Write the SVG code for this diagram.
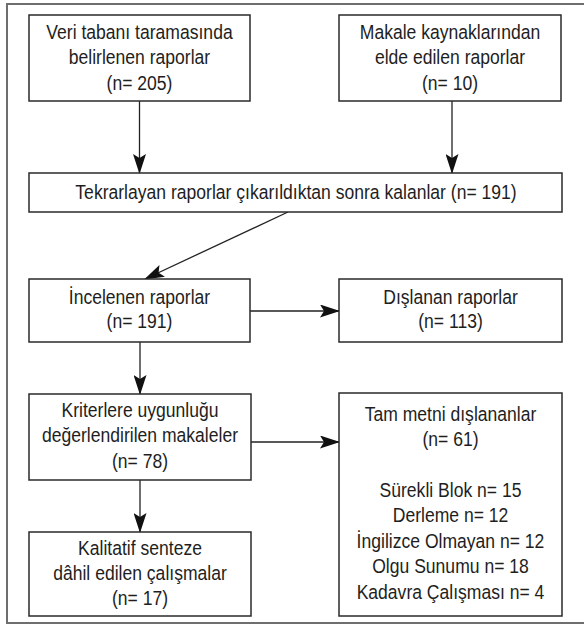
<svg xmlns="http://www.w3.org/2000/svg" width="584" height="624" viewBox="0 0 584 624">
  <defs>
    <style>
      .box { fill: #ffffff; stroke: #2a2a2a; stroke-width: 1.5; }
      .frame { fill: none; stroke: #6e6e6e; stroke-width: 2; }
      .lbl { font-family: "Liberation Sans", Arial, Helvetica, sans-serif; font-size: 19.5px; fill: #1e1e1e; text-anchor: middle; }
      .conn { stroke: #222222; stroke-width: 1.3; fill: none; marker-end: url(#arrow); }
    </style>
    <marker id="arrow" markerUnits="userSpaceOnUse" markerWidth="20" markerHeight="13" refX="19" refY="6.5" orient="auto">
      <path d="M0,0 L20,6.5 L0,13 L4,6.5 Z" fill="#111111"/>
    </marker>
  </defs>
  <rect width="584" height="624" fill="#ffffff"/>
  <path class="frame" d="M584,4 H7 V623 H584"/>

  <g id="connectors">
    <line class="conn" x1="139.5" y1="101" x2="139.5" y2="173"/>
    <line class="conn" x1="452" y1="101" x2="452" y2="173"/>
    <line class="conn" x1="288" y1="212" x2="145" y2="279"/>
    <line class="conn" x1="250" y1="311" x2="339" y2="311"/>
    <line class="conn" x1="140" y1="342" x2="140" y2="394"/>
    <line class="conn" x1="251" y1="442" x2="339" y2="442"/>
    <line class="conn" x1="140" y1="480" x2="140" y2="532"/>
  </g>

  <g id="n1">
    <rect class="box" x="29" y="15" width="221" height="86"/>
    <g transform="translate(139.5,0) scale(0.9,1)">
      <text class="lbl" x="0" y="39">Veri tabanı taramasında</text>
      <text class="lbl" x="0" y="64.5">belirlenen raporlar</text>
      <text class="lbl" x="0" y="90">(n= 205)</text>
    </g>
  </g>

  <g id="n2">
    <rect class="box" x="339" y="15" width="222" height="86"/>
    <g transform="translate(450,0) scale(0.9,1)">
      <text class="lbl" x="0" y="39">Makale kaynaklarından</text>
      <text class="lbl" x="0" y="64.5">elde edilen raporlar</text>
      <text class="lbl" x="0" y="90">(n= 10)</text>
    </g>
  </g>

  <g id="n3">
    <rect class="box" x="29" y="173" width="533" height="39"/>
    <g transform="translate(296,0) scale(0.9,1)">
      <text class="lbl" x="0" y="199">Tekrarlayan raporlar çıkarıldıktan sonra kalanlar (n= 191)</text>
    </g>
  </g>

  <g id="n4">
    <rect class="box" x="29" y="279" width="221" height="63"/>
    <g transform="translate(139.5,0) scale(0.9,1)">
      <text class="lbl" x="0" y="304">İncelenen raporlar</text>
      <text class="lbl" x="0" y="328.5">(n= 191)</text>
    </g>
  </g>

  <g id="n5">
    <rect class="box" x="339" y="279" width="223" height="63"/>
    <g transform="translate(450.5,0) scale(0.9,1)">
      <text class="lbl" x="0" y="304">Dışlanan raporlar</text>
      <text class="lbl" x="0" y="328.5">(n= 113)</text>
    </g>
  </g>

  <g id="n6">
    <rect class="box" x="29" y="394" width="222" height="86"/>
    <g transform="translate(140,0) scale(0.9,1)">
      <text class="lbl" x="0" y="417">Kriterlere uygunluğu</text>
      <text class="lbl" x="0" y="442.5">değerlendirilen makaleler</text>
      <text class="lbl" x="0" y="468">(n= 78)</text>
    </g>
  </g>

  <g id="n7">
    <rect class="box" x="339" y="393" width="223" height="223"/>
    <g transform="translate(450.5,0) scale(0.9,1)">
      <text class="lbl" x="0" y="421">Tam metni dışlananlar</text>
      <text class="lbl" x="0" y="446">(n= 61)</text>
      <text class="lbl" x="0" y="497">Sürekli Blok n= 15</text>
      <text class="lbl" x="0" y="522.5">Derleme n= 12</text>
      <text class="lbl" x="0" y="548">İngilizce Olmayan n= 12</text>
      <text class="lbl" x="0" y="573.5">Olgu Sunumu n= 18</text>
      <text class="lbl" x="0" y="599">Kadavra Çalışması n= 4</text>
    </g>
  </g>

  <g id="n8">
    <rect class="box" x="29" y="532" width="222" height="84"/>
    <g transform="translate(140,0) scale(0.9,1)">
      <text class="lbl" x="0" y="555">Kalitatif senteze</text>
      <text class="lbl" x="0" y="580.5">dâhil edilen çalışmalar</text>
      <text class="lbl" x="0" y="605">(n= 17)</text>
    </g>
  </g>
</svg>
